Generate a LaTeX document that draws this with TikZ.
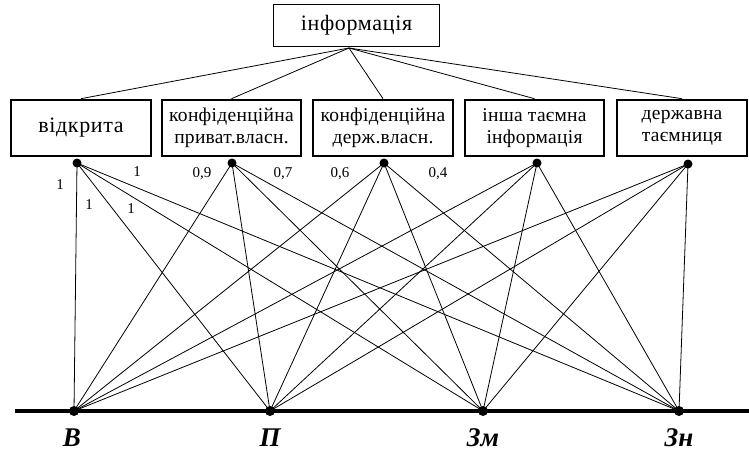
\documentclass[tikz,border=0pt]{standalone}
\usepackage{fontspec}
\setmainfont{Liberation Serif}
\newfontfamily\boxfont[LetterSpace=1.5]{Liberation Serif}
\newfontfamily\topfont[LetterSpace=3]{Liberation Serif}
\begin{document}
\begin{tikzpicture}[x=1pt,y=-1pt,
  topbox/.style={draw,line width=1pt,minimum width=166pt,minimum height=42pt,inner sep=0pt,font=\topfont\fontsize{22}{24}\selectfont},
  catbox/.style={draw,line width=2.6pt,minimum height=56pt,inner sep=0pt,align=center,font=\boxfont\fontsize{19.5}{22}\selectfont},
  dot/.style={circle,fill=black,inner sep=0pt,minimum size=9pt},
  link/.style={line width=0.8pt},
  wlabel/.style={font=\fontsize{15}{17}\selectfont,inner sep=0pt},
  blabel/.style={font=\fontsize{27}{29}\selectfont\bfseries\itshape,inner sep=0pt}]
\useasboundingbox (0,0) rectangle (749,452);
\node[topbox] (info) at (356.5,25.5) {інформація};
\coordinate (hub) at (349,48);
\node[catbox,minimum width=140pt,font=\topfont\fontsize{22}{24}\selectfont] (c1) at (81,128) {відкрита};
\node[catbox,minimum width=139pt] (c2) at (231.5,128) {конфіденційна\\приват.власн.};
\node[catbox,minimum width=140pt] (c3) at (383,128) {конфіденційна\\держ.власн.};
\node[catbox,minimum width=139pt] (c4) at (534.5,128) {інша таємна\\інформація};
\node[catbox,minimum width=130pt] (c5) at (682,128) {державна\\таємниця};
\foreach \i in {1,...,5} \draw[link] (hub) -- (c\i.north);
\node[dot] (t1) at (77,163) {};
\node[dot] (t2) at (232,163) {};
\node[dot] (t3) at (384,163) {};
\node[dot] (t4) at (537,163) {};
\node[dot] (t5) at (688,164) {};
\coordinate (ls) at (15,411);
\coordinate (le) at (749,411);
\draw[line width=4pt] (ls) -- (le);
\node[dot,minimum size=10pt] (b1) at (74,411) {};
\node[dot,minimum size=10pt] (b2) at (270,411) {};
\node[dot,minimum size=10pt] (b3) at (483,411) {};
\node[dot,minimum size=10pt] (b4) at (679,411) {};
\foreach \i in {1,...,5} \foreach \j in {1,...,4} \draw[link] (t\i.center) -- (b\j.center);
\node[wlabel] (l1) at (60,185) {1};
\node[wlabel] (l2) at (89,205) {1};
\node[wlabel] (l3) at (131,209) {1};
\node[wlabel] (l4) at (137,172) {1};
\node[wlabel] (l5) at (202,174) {0,9};
\node[wlabel] (l6) at (283,174) {0,7};
\node[wlabel] (l7) at (340,174) {0,6};
\node[wlabel] (l8) at (438,174) {0,4};
\node[blabel] (n1) at (72,438) {В};
\node[blabel] (n2) at (270,438) {П};
\node[blabel] (n3) at (483,438) {Зм};
\node[blabel] (n4) at (679,438) {Зн};
\end{tikzpicture}
\end{document}
